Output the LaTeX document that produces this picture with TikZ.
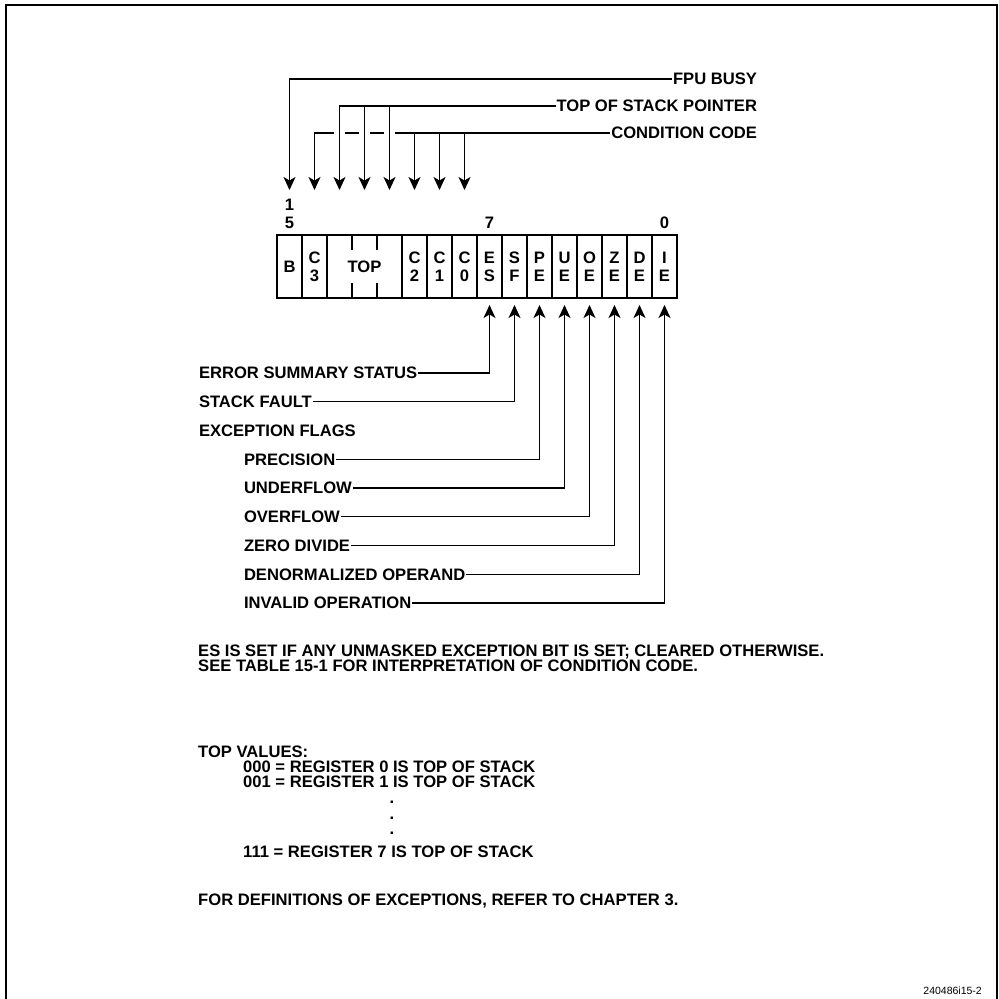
\documentclass[tikz,border=0pt]{standalone}
\usepackage{fontspec}
\setmainfont{Liberation Sans}
\usetikzlibrary{arrows.meta,positioning,calc}
\newcommand{\regfont}{\fontsize{16.6}{18}\selectfont\bfseries}
\newcommand{\notefont}{\fontsize{16.6}{15}\selectfont\bfseries}
\tikzset{
  bitcell/.style={
    draw,
    line width=1.1pt,
    minimum width=25pt,
    minimum height=63pt,
    inner sep=0pt,
    outer sep=0pt,
    align=center,
    font=\regfont
  },
  regframe/.style={
    draw,
    line width=2.2pt
  },
  bitnum/.style={
    inner sep=0pt,
    align=center,
    font=\regfont
  },
  flaglabel/.style={
    inner sep=0pt,
    outer sep=1pt,
    text height=11.8pt,
    text depth=0pt,
    font=\regfont
  },
  notetext/.style={
    inner sep=0pt,
    align=left,
    font=\notefont
  },
  sigarrow/.style={
    -{Stealth[length=13pt,width=12pt,inset=3.5pt]},
    line width=1.4pt
  },
  tickmark/.style={
    line width=1.1pt
  }
}

\begin{document}
\begin{tikzpicture}[x=1pt,y=1pt]
\useasboundingbox (0,0) rectangle (999,-999);
\draw[line width=2.4pt] (6,-5) rectangle (997,-1010);

\node[bitcell] (b) at (289.5,-266.5) {B};
\node[bitcell, right=0pt of b] (c3) {C\\3};
\node[bitcell, minimum width=75pt, right=0pt of c3] (top) {TOP};
\node[bitcell, right=0pt of top] (c2) {C\\2};
\node[bitcell, right=0pt of c2] (c1) {C\\1};
\node[bitcell, right=0pt of c1] (c0) {C\\0};
\node[bitcell, right=0pt of c0] (es) {E\\S};
\node[bitcell, right=0pt of es] (sf) {S\\F};
\node[bitcell, right=0pt of sf] (pe) {P\\E};
\node[bitcell, right=0pt of pe] (ue) {U\\E};
\node[bitcell, right=0pt of ue] (oe) {O\\E};
\node[bitcell, right=0pt of oe] (ze) {Z\\E};
\node[bitcell, right=0pt of ze] (de) {D\\E};
\node[bitcell, right=0pt of de] (ie) {I\\E};
\draw[regframe] (b.north west) rectangle (ie.south east);

\coordinate (t12) at ($(top.north west)!1/3!(top.north east)$);
\coordinate (t11) at ($(top.north west)!2/3!(top.north east)$);
\draw[tickmark] (t12) -- +(0,-15) (t11) -- +(0,-15);
\draw[tickmark] (t12 |- top.south) -- +(0,15) (t11 |- top.south) -- +(0,15);

\node[bitnum, above=6pt of b] (n15) {1\\5};
\node[bitnum, above=6pt of es] (n7) {7};
\node[bitnum, above=6pt of ie] (n0) {0};

\node[flaglabel, anchor=east] (fpu) at (758,-79) {FPU BUSY};
\node[flaglabel, below=27pt of fpu.east, anchor=east] (tos) {TOP OF STACK POINTER};
\node[flaglabel, below=27pt of tos.east, anchor=east] (cc) {CONDITION CODE};

\coordinate (d13) at ($(top.north west)!1/6!(top.north east)$);
\coordinate (d11) at ($(top.north west)!5/6!(top.north east)$);

\draw[sigarrow, shorten >=45pt] (fpu.west) -| (b.north);
\draw[sigarrow, shorten >=45pt] (cc.west) -| (c3.north);
\draw[sigarrow, shorten >=45pt] (c2.north |- cc.west) -- (c2.north);
\draw[sigarrow, shorten >=45pt] (c1.north |- cc.west) -- (c1.north);
\draw[sigarrow, shorten >=45pt] (c0.north |- cc.west) -- (c0.north);
\fill[white] ($(d13 |- cc.west)+(-5.5,-3)$) rectangle +(11,6);
\fill[white] ($(top.north |- cc.west)+(-5.5,-3)$) rectangle +(11,6);
\fill[white] ($(d11 |- cc.west)+(-5.5,-3)$) rectangle +(11,6);
\draw[sigarrow, shorten >=45pt] (tos.west) -| (d13);
\draw[sigarrow, shorten >=45pt] (top.north |- tos.west) -- (top.north);
\draw[sigarrow, shorten >=45pt] (d11 |- tos.west) -- (d11);

\node[flaglabel, anchor=west] (ess) at (198,-373) {ERROR SUMMARY STATUS};
\node[flaglabel, below=28.75pt of ess.west, anchor=west] (sfl) {STACK FAULT};
\node[flaglabel, below=28.75pt of sfl.west, anchor=west] (exf) {EXCEPTION FLAGS};
\node[flaglabel, below=28.75pt of exf.west, anchor=west, xshift=45pt] (pel) {PRECISION};
\node[flaglabel, below=28.75pt of pel.west, anchor=west] (uel) {UNDERFLOW};
\node[flaglabel, below=28.75pt of uel.west, anchor=west] (oel) {OVERFLOW};
\node[flaglabel, below=28.75pt of oel.west, anchor=west] (zel) {ZERO DIVIDE};
\node[flaglabel, below=28.75pt of zel.west, anchor=west] (del) {DENORMALIZED OPERAND};
\node[flaglabel, below=28.75pt of del.west, anchor=west] (iel) {INVALID OPERATION};

\draw[sigarrow, shorten >=7pt] (ess.east) -| (es.south);
\draw[sigarrow, shorten >=7pt] (sfl.east) -| (sf.south);
\draw[sigarrow, shorten >=7pt] (pel.east) -| (pe.south);
\draw[sigarrow, shorten >=7pt] (uel.east) -| (ue.south);
\draw[sigarrow, shorten >=7pt] (oel.east) -| (oe.south);
\draw[sigarrow, shorten >=7pt] (zel.east) -| (ze.south);
\draw[sigarrow, shorten >=7pt] (del.east) -| (de.south);
\draw[sigarrow, shorten >=7pt] (iel.east) -| (ie.south);

\node[notetext, anchor=north west] (esnote) at (198,-645)
  {ES IS SET IF ANY UNMASKED EXCEPTION BIT IS SET; CLEARED OTHERWISE.\\
   SEE TABLE 15-1 FOR INTERPRETATION OF CONDITION CODE.};
\node[notetext, anchor=north west] (topvals) at (198,-746) {TOP VALUES:};
\node[notetext, anchor=north west] (reg01) at (243,-761)
  {000 = REGISTER 0 IS TOP OF STACK\\001 = REGISTER 1 IS TOP OF STACK};
\node[notetext, align=center, font=\fontsize{16.6}{15.5}\selectfont\bfseries] (vdots) at (392,-818) {.\\.\\.};
\node[notetext, anchor=north west] (reg7) at (243,-846) {111 = REGISTER 7 IS TOP OF STACK};
\node[notetext, anchor=north west] (defnote) at (198,-894)
  {FOR DEFINITIONS OF EXCEPTIONS, REFER TO CHAPTER 3.};
\node[inner sep=0pt, anchor=east, font=\fontsize{10.5}{12}\selectfont] (fignum) at (982,-991) {240486i15-2};
\end{tikzpicture}
\end{document}
